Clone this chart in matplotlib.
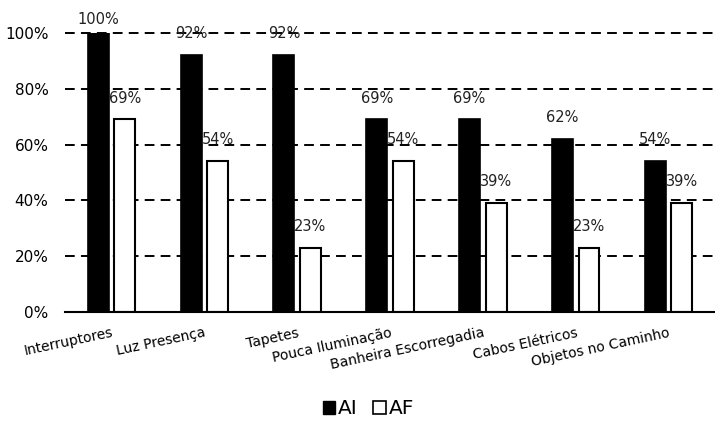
import matplotlib
matplotlib.use("Agg")
import matplotlib.pyplot as plt
import numpy as np
from matplotlib.patches import Rectangle
from matplotlib.ticker import FuncFormatter

categories = ["Interruptores", "Luz Presença", "Tapetes", "Pouca Iluminação",
              "Banheira Escorregadia", "Cabos Elétricos", "Objetos no Caminho"]
ai_values = [100, 92, 92, 69, 69, 62, 54]
af_values = [69, 54, 23, 54, 39, 23, 39]
series_names = ["AI", "AF"]
y_ticks = [0, 20, 40, 60, 80, 100]

plt.rcParams["font.family"] = ["DejaVu Sans"]

fig = plt.figure(figsize=(7.15, 4.28), dpi=100)
ax = fig.add_axes([0.091, 0.271, 0.909, 0.652])

x = np.arange(len(categories))
width = 0.225
offset = 0.143

bars_ai = ax.bar(x - offset, ai_values, width, color="black", edgecolor="black",
                 linewidth=1.2, label=series_names[0], zorder=3)
bars_af = ax.bar(x + offset, af_values, width, color="white", edgecolor="black",
                 linewidth=1.5, label=series_names[1], zorder=3)

for bars, vals in ((bars_ai, ai_values), (bars_af, af_values)):
    for b, v in zip(bars, vals):
        dy = 4 if v >= 100 else 10
        ax.annotate(f"{v}%", (b.get_x() + b.get_width() / 2, v),
                    xytext=(0, dy), textcoords="offset points",
                    ha="center", va="bottom", fontsize=10.5, color="#222222",
                    zorder=4, annotation_clip=False)

ax.set_xlim(-0.5, len(categories) - 0.5)
ax.set_ylim(0, 100)
ax.set_yticks(y_ticks)
ax.yaxis.set_major_formatter(FuncFormatter(lambda v, p: f"{int(v)}%"))
ax.tick_params(axis="y", length=0, labelsize=11, pad=12)
ax.tick_params(axis="x", length=0, pad=10)
ax.set_xticks(x)
ax.set_xticklabels(categories, rotation=12, ha="right", rotation_mode="anchor",
                   fontsize=10)

ax.yaxis.grid(True, linestyle=(0, (5, 3.2)), color="black", linewidth=1.4, zorder=1)
for gl in ax.get_ygridlines():
    gl.set_clip_on(False)
ax.set_axisbelow(True)
for s in ("top", "right", "left"):
    ax.spines[s].set_visible(False)
ax.spines["bottom"].set_linewidth(1.5)
ax.spines["bottom"].set_zorder(5)

handles = [Rectangle((0, 0), 1, 1, facecolor="black", edgecolor="black"),
           Rectangle((0, 0), 1, 1, facecolor="white", edgecolor="black", linewidth=1.2)]
fig.legend(handles, series_names, loc="center", bbox_to_anchor=(0.515, 0.045),
           ncol=2, frameon=False, fontsize=14.5, handlelength=0.6, handleheight=0.6,
           handletextpad=0.15, columnspacing=0.8)

fig.savefig("out.png", dpi=100)
